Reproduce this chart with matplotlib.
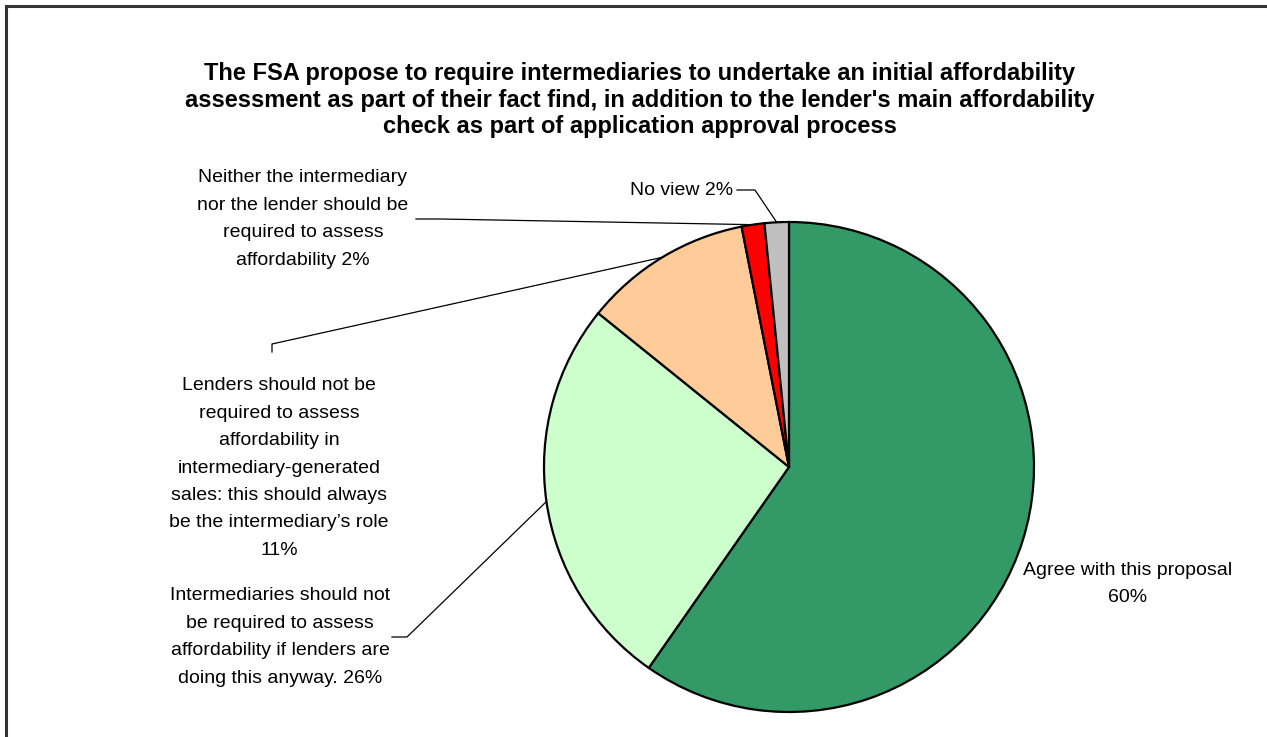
import matplotlib.pyplot as plt
import numpy as np

W, H = 1267, 737

title = ("The FSA propose to require intermediaries to undertake an initial affordability\n"
         "assessment as part of their fact find, in addition to the lender's main affordability\n"
         "check as part of application approval process")

labels = ['Agree with this proposal\n60%',
          'Intermediaries should not\nbe required to assess\naffordability if lenders are\ndoing this anyway. 26%',
          'Lenders should not be\nrequired to assess\naffordability in\nintermediary-generated\nsales: this should always\nbe the intermediary\u2019s role\n11%',
          'Neither the intermediary\nnor the lender should be\nrequired to assess\naffordability 2%',
          'No view 2%']
values = [59.7, 26.1, 11.1, 1.5, 1.6]
colors = ['#339966', '#CCFFCC', '#FFCC99', '#FF0000', '#C0C0C0']

plt.rcParams['font.family'] = ['Liberation Sans', 'DejaVu Sans']

fig = plt.figure(figsize=(W / 100, H / 100), dpi=100)
ax = fig.add_axes([0, 0, 1, 1])

cx, cy, r = 789, H - 467, 245
wedges, _ = ax.pie(values, colors=colors, startangle=90, counterclock=False,
                   center=(cx, cy), radius=r,
                   wedgeprops=dict(edgecolor='black', linewidth=1.6))

ax.set_xlim(0, W)
ax.set_ylim(0, H)
ax.axis('off')


def anchor(w):
    a = np.deg2rad((w.theta1 + w.theta2) / 2)
    return cx + r * np.cos(a), cy + r * np.sin(a)


def line(pts, end):
    xs = [p[0] for p in pts] + [end[0]]
    ys = [H - p[1] for p in pts] + [end[1]]
    ax.plot(xs, ys, color='black', lw=0.9)


fs = 14
ls = 1.8
# label text (layout in pixel coords, y from top)
ax.text(1128, H - 584, labels[0], ha='center', va='center', fontsize=fs, linespacing=ls)
ax.text(280, H - 637, labels[1], ha='center', va='center', fontsize=fs, linespacing=ls)
ax.text(279, H - 468, labels[2], ha='center', va='center', fontsize=fs, linespacing=ls)
ax.text(303, H - 219, labels[3], ha='center', va='center', fontsize=fs, linespacing=ls)
ax.text(733, H - 190, labels[4], ha='right', va='center', fontsize=fs)

# leader lines
line([(392, 637), (407, 637)], anchor(wedges[1]))
line([(272, 352), (272, 344)], anchor(wedges[2]))
line([(416, 219), (440, 219)], anchor(wedges[3]))
line([(737, 190), (755, 190)], anchor(wedges[4]))

# outer frame (top and left)
ax.plot([6, 6, W], [0, H - 6, H - 6], color='#333333', lw=2.2, solid_joinstyle='miter')

ax.text(640, H - 100, title, ha='center', va='center', fontsize=17, fontweight='bold',
        linespacing=1.2)

fig.savefig('out.png', dpi=100)
